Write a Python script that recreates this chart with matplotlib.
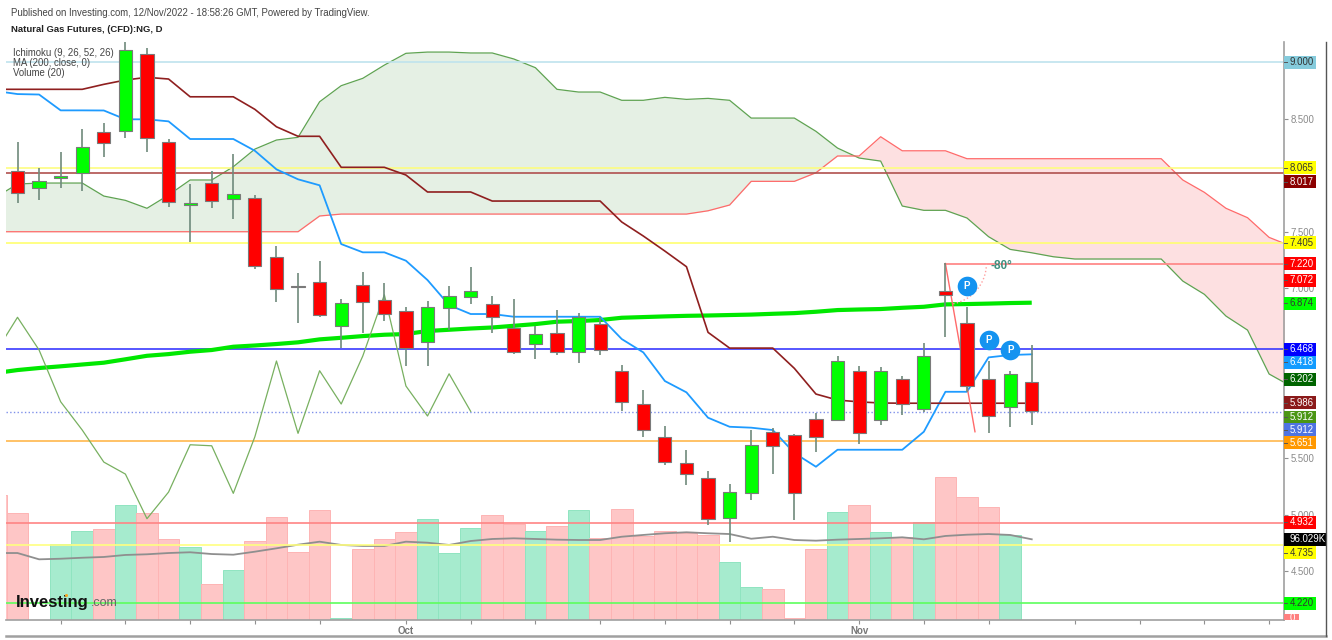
import numpy as np
import matplotlib
matplotlib.use('Agg')
import matplotlib.pyplot as plt
from matplotlib.lines import Line2D
from matplotlib.patches import Rectangle

plt.rcParams['font.family'] = ['Liberation Sans', 'DejaVu Sans']

# candles, one value per day
opens = [8.037, 7.887, 7.973, 8.022, 8.382, 8.393, 9.071, 8.296, 7.734, 7.928, 7.792, 7.799,
         7.275, 7.019, 7.059, 6.670, 7.030, 6.895, 6.800, 6.526, 6.829, 6.921, 6.860, 6.647,
         6.511, 6.606, 6.438, 6.686, 6.268, 5.979, 5.690, 5.460, 5.322, 4.972, 5.195, 5.734,
         5.705, 5.849, 5.835, 6.273, 5.835, 6.202, 5.937, 6.980, 6.692, 6.197, 5.952, 6.173]
closes = [7.845, 7.951, 7.996, 8.246, 8.282, 9.109, 8.326, 7.766, 7.752, 7.772, 7.831, 7.195,
          6.995, 7.012, 6.762, 6.871, 6.877, 6.771, 6.476, 6.836, 6.930, 6.974, 6.750, 6.438,
          6.597, 6.438, 6.745, 6.456, 5.999, 5.749, 5.466, 5.360, 4.966, 5.201, 5.619, 5.610,
          5.190, 5.690, 6.359, 5.720, 6.273, 5.979, 6.403, 6.944, 6.138, 5.873, 6.246, 5.914]
highs = [8.296, 8.064, 8.205, 8.408, 8.458, 9.174, 9.121, 8.320, 7.922, 8.040, 8.185, 7.825,
         7.377, 7.133, 7.242, 6.906, 7.142, 7.045, 6.833, 6.889, 7.024, 7.192, 6.933, 6.904,
         6.670, 6.809, 6.780, 6.745, 6.323, 6.102, 5.787, 5.572, 5.384, 5.269, 5.746, 5.764,
         5.710, 5.897, 6.405, 6.314, 6.306, 6.229, 6.515, 7.227, 6.833, 6.361, 6.273, 6.500]
lows = [7.757, 7.781, 7.890, 7.863, 8.161, 8.331, 8.208, 7.719, 7.407, 7.710, 7.616, 7.174,
        6.877, 6.697, 6.750, 6.473, 6.606, 6.709, 6.317, 6.317, 6.635, 6.862, 6.609, 6.418,
        6.374, 6.409, 6.344, 6.414, 5.917, 5.685, 5.437, 5.263, 4.913, 4.760, 5.128, 5.358,
        4.954, 5.557, 5.835, 5.625, 5.796, 5.884, 5.905, 6.573, 6.087, 5.725, 5.776, 5.791]

# indicator lines start one day left of the first candle
tenkan = [8.744, 8.717, 8.713, 8.573, 8.573, 8.572, 8.494, 8.494, 8.476, 8.320, 8.320, 8.320,
          8.216, 8.052, 7.964, 7.911, 7.392, 7.319, 7.319, 7.245, 7.074, 6.853, 6.774, 6.774,
          6.750, 6.750, 6.750, 6.750, 6.750, 6.553, 6.435, 6.182, 6.082, 5.858, 5.778, 5.770,
          5.749, 5.546, 5.425, 5.575, 5.575, 5.575, 5.575, 5.734, 6.087, 6.087, 6.391, 6.412, 6.418]
kijun = [8.759, 8.759, 8.759, 8.759, 8.759, 8.803, 8.841, 8.865, 8.850, 8.693, 8.693, 8.693,
         8.582, 8.428, 8.344, 8.344, 8.070, 8.070, 8.070, 8.002, 7.852, 7.852, 7.852, 7.772,
         7.772, 7.772, 7.772, 7.772, 7.772, 7.587, 7.463, 7.330, 7.192, 6.612, 6.473, 6.473,
         6.473, 6.294, 6.067, 6.014, 5.998, 5.988, 5.986, 5.986, 5.986, 5.986, 5.986, 5.986, 5.986]
ma200 = [6.253, 6.279, 6.297, 6.312, 6.328, 6.344, 6.374, 6.405, 6.420, 6.441, 6.456, 6.485,
         6.496, 6.509, 6.524, 6.550, 6.564, 6.579, 6.591, 6.597, 6.624, 6.635, 6.646, 6.655,
         6.670, 6.685, 6.706, 6.712, 6.721, 6.741, 6.747, 6.753, 6.758, 6.761, 6.765, 6.769,
         6.776, 6.782, 6.794, 6.809, 6.814, 6.818, 6.829, 6.838, 6.859, 6.862, 6.866, 6.871, 6.874]

# cloud runs past the last candle
span_a = [7.807, 7.922, 7.931, 7.931, 7.931, 7.816, 7.778, 7.708, 7.825, 7.958, 7.958, 8.075,
          8.231, 8.311, 8.335, 8.649, 8.791, 8.856, 8.973, 9.077, 9.088, 9.088, 9.080, 9.080,
          9.027, 8.950, 8.759, 8.735, 8.735, 8.662, 8.662, 8.688, 8.670, 8.679, 8.662, 8.505,
          8.505, 8.505, 8.388, 8.240, 8.152, 8.125, 7.728, 7.690, 7.690, 7.622, 7.457, 7.345,
          7.315, 7.280, 7.260, 7.260, 7.260, 7.260, 7.260, 7.065, 6.948, 6.756, 6.632, 6.244, 6.138]
span_b = [7.501, 7.501, 7.501, 7.501, 7.501, 7.501, 7.501, 7.501, 7.501, 7.501, 7.501, 7.501,
          7.501, 7.501, 7.501, 7.640, 7.657, 7.657, 7.657, 7.657, 7.657, 7.657, 7.657, 7.657,
          7.657, 7.657, 7.657, 7.657, 7.657, 7.657, 7.657, 7.657, 7.657, 7.686, 7.737, 7.946,
          7.946, 7.946, 8.022, 8.170, 8.170, 8.340, 8.216, 8.216, 8.216, 8.146, 8.146, 8.146,
          8.146, 8.146, 8.146, 8.146, 8.146, 8.146, 8.146, 7.958, 7.849, 7.708, 7.625, 7.451, 7.375]

# volume in thousands
volume = [148.8, 127.0, 0, 90.1, 105.6, 108.3, 136.5, 127.0, 96.4, 86.9, 42.5, 59.5, 94.0, 122.2,
          81.3, 130.5, 2.0, 84.5, 96.4, 104.7, 120.5, 80.1, 109.1, 125.0, 113.9, 105.9, 111.9,
          130.5, 97.2, 131.7, 100.3, 106.3, 103.9, 101.5, 69.4, 38.9, 36.5, 2.0, 84.1, 128.9,
          136.9, 104.4, 98.4, 117.0, 170.5, 146.0, 134.5, 101.5, 0]
volume_ma = [79.7, 79.7, 72.2, 72.9, 74.1, 75.0, 77.4, 78.2, 79.7, 80.6, 78.5, 77.7, 81.3, 85.3,
             89.6, 93.2, 89.3, 88.1, 88.1, 93.2, 92.0, 89.3, 94.0, 96.4, 97.2, 96.4, 95.6, 95.2,
             95.2, 99.1, 101.2, 103.2, 104.4, 103.2, 102.3, 96.7, 99.1, 95.2, 94.4, 95.6, 96.4,
             97.2, 98.4, 96.0, 100.0, 101.5, 102.3, 101.2, 96.029]

# horizontal levels
level_values = [9.000, 8.065, 8.017, 7.405, 6.468, 5.912, 5.651, 4.932, 4.735, 4.220]
level_colors = ['#bfe3ed', '#fdfd80', '#b0504e', '#ffff70', '#3a3aff', '#7f90ea', '#ffb84d',
                '#ff8484', '#ffff80', '#5cff5c']
level_styles = ['-', '-', '-', '-', '-', ':', '-', '-', '-', '-']

# axis labels, 8.000 6.500 and 6.000 sit behind the price tags
tick_prices = [8.5, 8.0, 7.5, 7.0, 6.5, 6.0, 5.5, 5.0, 4.5]
tick_labels = ['8.500', '', '7.500', '7.000', '', '', '5.500', '5.000', '4.500']
date_ticks = [2, 5, 8, 11, 14, 18, 21, 24, 27, 30, 33, 36, 39, 42, 45, 49, 52, 55, 58]
date_labels = {18: 'Oct', 39: 'Nov'}

# coloured boxes on the price axis, drawn at tag_pos so they do not overlap
tag_text = ['9.000', '8.065', '8.017', '7.405', '7.220', '7.072', '6.874', '6.468', '6.418',
            '6.202', '5.986', '5.912', '5.912', '5.651', '4.932', '4.735', '4.220']
tag_pos = [9.000, 8.064, 7.943, 7.404, 7.218, 7.072, 6.871, 6.462, 6.347, 6.197, 5.988, 5.864,
           5.752, 5.637, 4.934, 4.665, 4.218]
tag_bg = ['#85cbdc', '#ffff00', '#8b0000', '#ffff00', '#ff0000', '#ff0000', '#00ff00', '#0000ff',
          '#129bff', '#006400', '#8b1a1a', '#4b9614', '#4f74e3', '#ff9800', '#ff0000', '#ffff00',
          '#00ff00']
tag_fg = ['#333333', '#333333', 'white', '#333333', 'white', 'white', '#333333', 'white', 'white',
          'white', 'white', 'white', 'white', 'white', 'white', '#333333', '#333333']

pin_x = [44, 45, 46]
pin_y = [7.019, 6.544, 6.456]

W, H = 1332, 640
fig = plt.figure(figsize=(W / 100, H / 100), dpi=100)
ax = fig.add_axes([6 / W, 20 / H, 1278 / W, 578 / H])
ax2 = ax.twinx()
ax.set_zorder(ax2.get_zorder() + 1)
ax.patch.set_visible(False)

days = np.arange(len(closes))
o = np.array(opens)
c = np.array(closes)
down = c < o

# volume
vol_x = np.arange(-1, len(volume) - 1)
vol_down = np.concatenate([[True], down])
vol_colors = ['#fec6c6' if d else '#a6ebce' for d in vol_down]
vol_edges = ['#fdb4b4' if d else '#8fe4c0' for d in vol_down]
ax2.bar(vol_x, volume, width=1.0, color=vol_colors, edgecolor=vol_edges, linewidth=0.7)
ax2.plot(vol_x, volume_ma, color='#8f8f8f', lw=1.3)
ax2.set_ylim(0, 687.8)
ax2.axis('off')

# cloud
cloud_x = np.arange(-1, len(span_a) - 1)
a = np.array(span_a)
b = np.array(span_b)
ax.fill_between(cloud_x, a, b, where=a >= b, interpolate=True, color='#e5f0e4', lw=0, zorder=1)
ax.fill_between(cloud_x, a, b, where=a <= b, interpolate=True, color='#fde0e1', lw=0, zorder=1)
ax.plot(cloud_x, a, color='#5fa352', lw=0.9, zorder=2)
ax.plot(cloud_x, b, color='#ff6a6a', lw=0.9, zorder=2)

# levels
for val, col, st in zip(level_values, level_colors, level_styles):
    ax.axhline(val, color=col, lw=1.2 if st == '-' else 1.0, ls=st, zorder=2)

# angle tool
ax.plot([43, 58.69], [7.220, 7.220], color='#ff8a8a', lw=1.3, zorder=2)
ax.plot([43, 44.37], [7.220, 5.734], color='#ff6a6a', lw=1.0, zorder=4)
t = np.radians(np.linspace(0, 80, 30))
ax.plot(43 + 41 / 21.58 * np.cos(t), 7.220 - 41 / 113.2 * np.sin(t), color='#ff9f9f', lw=1.0, ls=':', zorder=4)
ax.text(45.1, 7.195, '-80°', color='#3f8f7f', fontsize=8.5, fontweight='bold', va='center', zorder=4)

# ichimoku and MA lines
line_x = np.arange(-1, len(tenkan) - 1)
ax.plot(line_x, ma200, color='#00e800', lw=3, zorder=3, solid_capstyle='butt')
ax.plot(np.arange(-1, 22), closes[25:], color='#78b060', lw=0.9, zorder=3)
ax.plot(line_x, tenkan, color='#1e9bff', lw=1.3, zorder=3)
ax.plot(line_x, kijun, color='#8f1f1f', lw=1.2, zorder=3)

# candles
ax.vlines(days, lows, highs, color='#6f8a7c', lw=1.2, zorder=5)
ax.bar(days, c - o, bottom=o, width=0.61, color=['#ff0000' if d else '#00ff00' for d in down],
       edgecolor='#7a7a7a', linewidth=0.8, zorder=6)

# pins
ax.scatter(pin_x, pin_y, s=200, color='#1493f0', lw=0, zorder=7)
for px, py in zip(pin_x, pin_y):
    ax.text(px, py, 'P', color='white', fontsize=7, fontweight='bold', ha='center', va='center', zorder=8)

ax.set_xlim(-0.533, 58.69)
ax.set_ylim(4.071, 9.177)

for name in ['top', 'left']:
    ax.spines[name].set_visible(False)
ax.spines['right'].set_visible(True)
for name in ['bottom', 'right']:
    ax.spines[name].set_color('#a0a0a0')
    ax.spines[name].set_linewidth(1.2)

ax.set_xticks(date_ticks)
ax.set_xticklabels([date_labels.get(d, '') for d in date_ticks], fontsize=7, color='#777777', fontweight='bold')
ax.tick_params(axis='x', length=3, color='#909090', pad=1.5)
ax.yaxis.tick_right()
ax.set_yticks(tick_prices)
ax.set_yticklabels(tick_labels, fontsize=6.9, color='#8a8a8a')
ax.tick_params(axis='y', length=3, color='#909090', pad=2)

# coloured price tags
box_w = 32 / 1278
box_h = 13 / 113.2
yaxis_tr = ax.get_yaxis_transform()
for txt, pos, bg, fg in zip(tag_text, tag_pos, tag_bg, tag_fg):
    ax.add_patch(Rectangle((1, pos - box_h / 2), box_w, box_h, transform=yaxis_tr, color=bg, lw=0, clip_on=False, zorder=10))
    ax.plot([1, 1 + 3 / 1278], [pos, pos], transform=yaxis_tr, color='#555555', lw=0.7, clip_on=False, zorder=11)
    ax.text(1 + 5.5 / 1278, pos, txt, transform=yaxis_tr, color=fg, fontsize=6.9, va='center', clip_on=False, zorder=11)

# volume MA tag is wider, zero tag is cut by the axis
ax.add_patch(Rectangle((1, 4.784 - box_h / 2), 42 / 1278, box_h, transform=yaxis_tr, color='black', lw=0, clip_on=False, zorder=10))
ax.text(1 + 5.5 / 1278, 4.784, '96.029K', transform=yaxis_tr, color='white', fontsize=6.9, va='center', clip_on=False, zorder=11)
zero_box = Rectangle((1, 4.075), 15 / 1278, 0.05, transform=yaxis_tr, color='#ff8080', lw=0, clip_on=False, zorder=10)
ax.add_patch(zero_box)
zero_txt = ax.text(1 + 5.5 / 1278, 4.09, '0', transform=yaxis_tr, color='white', fontsize=6.9, va='center', zorder=11)
zero_txt.set_clip_path(zero_box)

# outer frame
fig.add_artist(Line2D([6 / W, 1326 / W], [4 / H, 4 / H], color='#a0a0a0', lw=1.8))
fig.add_artist(Line2D([1326 / W, 1326 / W], [4 / H, 598 / H], color='#555555', lw=1.0))

# header and legend
fig.text(11 / W, 1 - 13 / H, 'Published on Investing.com, 12/Nov/2022 - 18:58:26 GMT, Powered by TradingView.',
         fontsize=6.95, color='#444444', va='center')
fig.text(11 / W, 1 - 29.5 / H, 'Natural Gas Futures, (CFD):NG, D', fontsize=6.8, fontweight='bold', color='#222222', va='center')
for txt, ypix in zip(['Ichimoku (9, 26, 52, 26)', 'MA (200, close, 0)', 'Volume (20)'], [53, 62.5, 72.5]):
    fig.text(13 / W, 1 - ypix / H, txt, fontsize=6.9, color='#444444', va='center', zorder=20)

# logo
fig.text(16 / W, 1 - 602 / H, 'Investing', fontsize=12, fontweight='bold', color='#111111', va='center', zorder=20)
fig.text(90.5 / W, 1 - 603.5 / H, '.com', fontsize=9, color='#666666', va='center', zorder=20)
fig.add_artist(Line2D([66 / W], [1 - 594.5 / H], marker='o', ms=2.2, color='#f5a623', lw=0, mew=0, zorder=21))

fig.savefig('out.png', dpi=100)
